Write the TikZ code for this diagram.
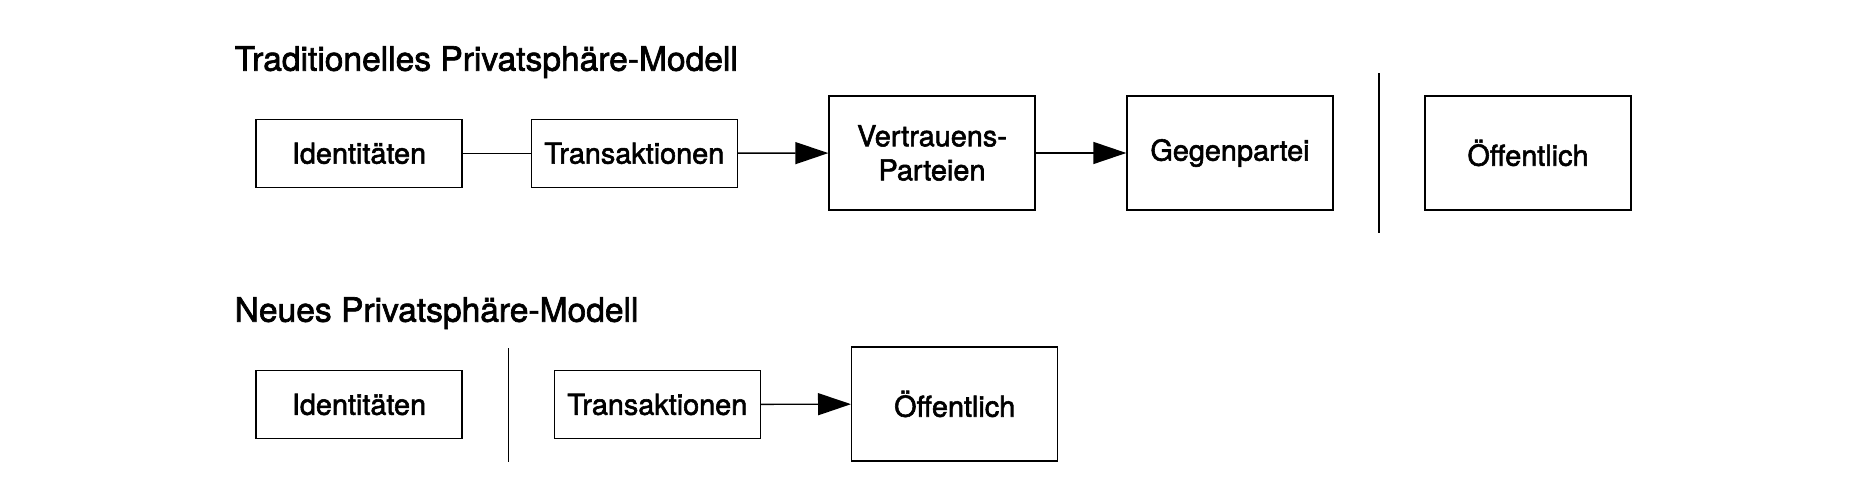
\documentclass[tikz,border=0pt]{standalone}
\usepackage{fontspec}
\setmainfont{TeX Gyre Heros}[FakeBold=2]
\usetikzlibrary{arrows.meta}

\begin{document}
\begin{tikzpicture}[auto,>={Triangle[length=0.33cm,width=0.22cm]}]

%
% Styles
%
\tikzstyle{smallbox} = [rectangle,draw,thin,minimum width=2.06cm,minimum height=0.68cm,inner sep=0pt,align=center,font=\fontsize{8.2}{9.7}\selectfont]
\tikzstyle{bigbox} = [smallbox,minimum height=1.14cm]
\tikzstyle{heading} = [anchor=base west,inner sep=0pt,font=\fontsize{9.55}{11}\selectfont]
\tikzstyle{divider} = [thin]

\useasboundingbox (0,0) rectangle (18.5,4.94);

% traditional model
\node[heading] (ttrad) at (2.34,4.233) {Traditionelles Privatsphäre-Modell};

\node[smallbox] (idA) at  ( 3.59, 3.407) {Identitäten};
\node[smallbox] (trA) at  ( 6.343,3.407) {Transaktionen};
\node[bigbox]   (vp)  at  ( 9.32, 3.41)  {Vertrauens-\\Parteien};
\node[bigbox]   (gp)  at  (12.30, 3.41)  {Gegenpartei};
\node[bigbox]   (oeA) at  (15.28, 3.41)  {Öffentlich};

\coordinate (sepAtop) at (13.79,4.207);
\coordinate (sepAbot) at (13.79,2.613);

\draw (idA) -- (trA);
\draw[->] (trA) -- (vp);
\draw[->] (vp) -- (gp);
\draw[divider] (sepAtop) -- (sepAbot);

% new model
\node[heading] (tnew) at (2.34,1.723) {Neues Privatsphäre-Modell};

\node[smallbox] (idB) at  ( 3.59, 0.895) {Identitäten};
\node[smallbox] (trB) at  ( 6.573,0.895) {Transaktionen};
\node[bigbox]   (oeB) at  ( 9.547,0.90)  {Öffentlich};

\coordinate (sepBtop) at (5.083,1.457);
\coordinate (sepBbot) at (5.083,0.323);

\draw[->] (trB) -- (oeB);
\draw[divider] (sepBtop) -- (sepBbot);

\end{tikzpicture}
\end{document}
